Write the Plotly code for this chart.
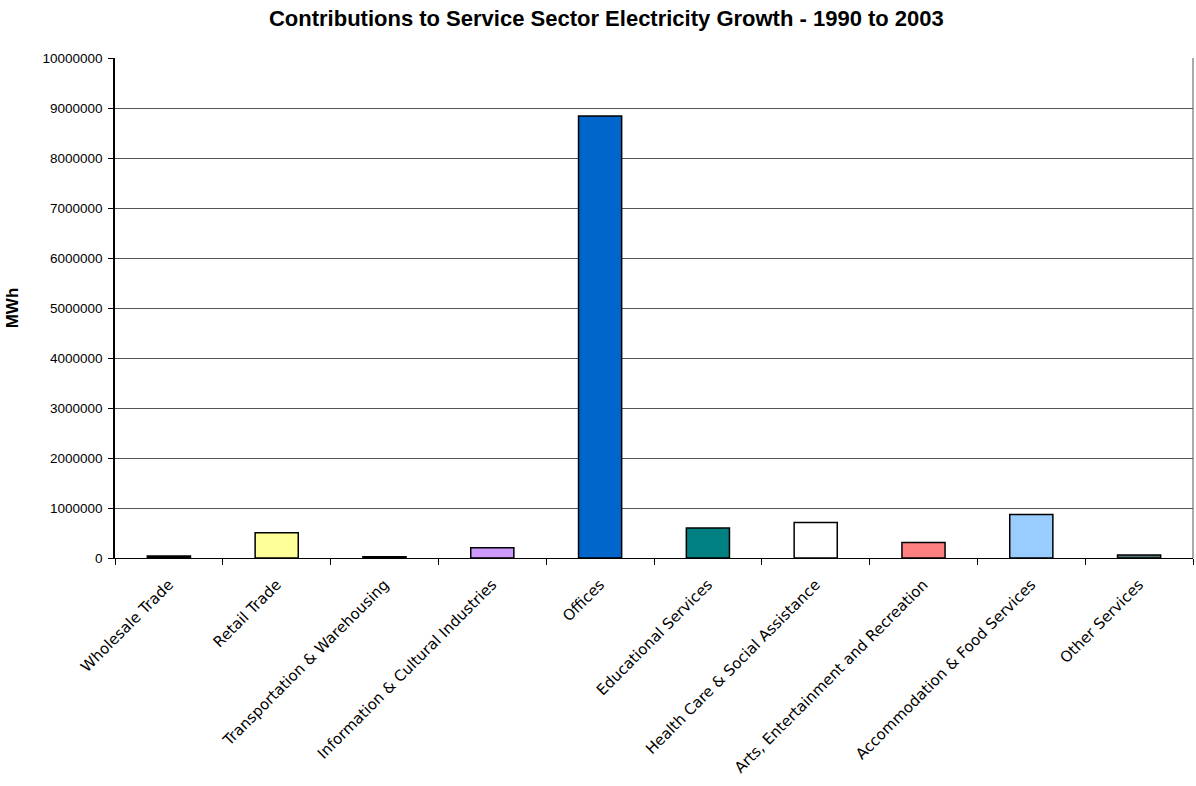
import plotly.graph_objects as go

categories = ["Wholesale Trade", "Retail Trade", "Transportation & Warehousing",
              "Information & Cultural Industries", "Offices", "Educational Services",
              "Health Care & Social Assistance", "Arts, Entertainment and Recreation",
              "Accommodation & Food Services", "Other Services"]
values = [40000, 505000, 25000, 205000, 8840000, 600000, 712000, 312000, 872000, 60000]
colors = ["#000000", "#FFFF99", "#000000", "#CC99FF", "#0066CC", "#008080",
          "#FFFFFF", "#FF8080", "#99CCFF", "#557777"]
y_ticks = list(range(0, 10000001, 1000000))

fig = go.Figure(go.Bar(
    x=categories, y=values,
    marker=dict(color=colors, line=dict(color="#000000", width=1.5)),
    width=0.4,
))

fig.update_layout(
    width=1196, height=786,
    paper_bgcolor="white", plot_bgcolor="white",
    margin=dict(l=115, r=3, t=58, b=228),
    title=dict(text="<b>Contributions to Service Sector Electricity Growth - 1990 to 2003</b>",
               x=0.507, xanchor="center", y=0.977, yanchor="middle",
               font=dict(family="Liberation Sans, Arial", size=22, color="black")),
    showlegend=False,
    font=dict(family="Liberation Sans, Arial", color="black"),
)

fig.update_xaxes(
    type="category", tickangle=-45, tickson="boundaries",
    ticks="outside", ticklen=6, tickcolor="black",
    showline=True, linecolor="black", linewidth=1,
    tickfont=dict(family="DejaVu Sans", size=15, color="black"),
    ticklabelstandoff=11, automargin=False,
    showgrid=False, mirror=False,
)
fig.update_yaxes(
    range=[0, 10000000], tickvals=y_ticks, ticktext=[str(v) for v in y_ticks],
    ticks="outside", ticklen=5, tickcolor="black",
    showline=True, linecolor="black", linewidth=1.5,
    showgrid=True, gridcolor="#555555", gridwidth=1,
    tickfont=dict(family="Liberation Sans, Arial", size=13.5, color="black"),
    ticklabelstandoff=3, automargin=False,
    title=dict(text="<b>MWh</b>", font=dict(family="Liberation Sans, Arial", size=17, color="black"),
               standoff=20),
    zeroline=False,
)
fig.add_shape(type="line", xref="paper", yref="paper", x0=1, x1=1, y0=0, y1=1,
              line=dict(color="#555555", width=1))

fig.write_html("out.html")
